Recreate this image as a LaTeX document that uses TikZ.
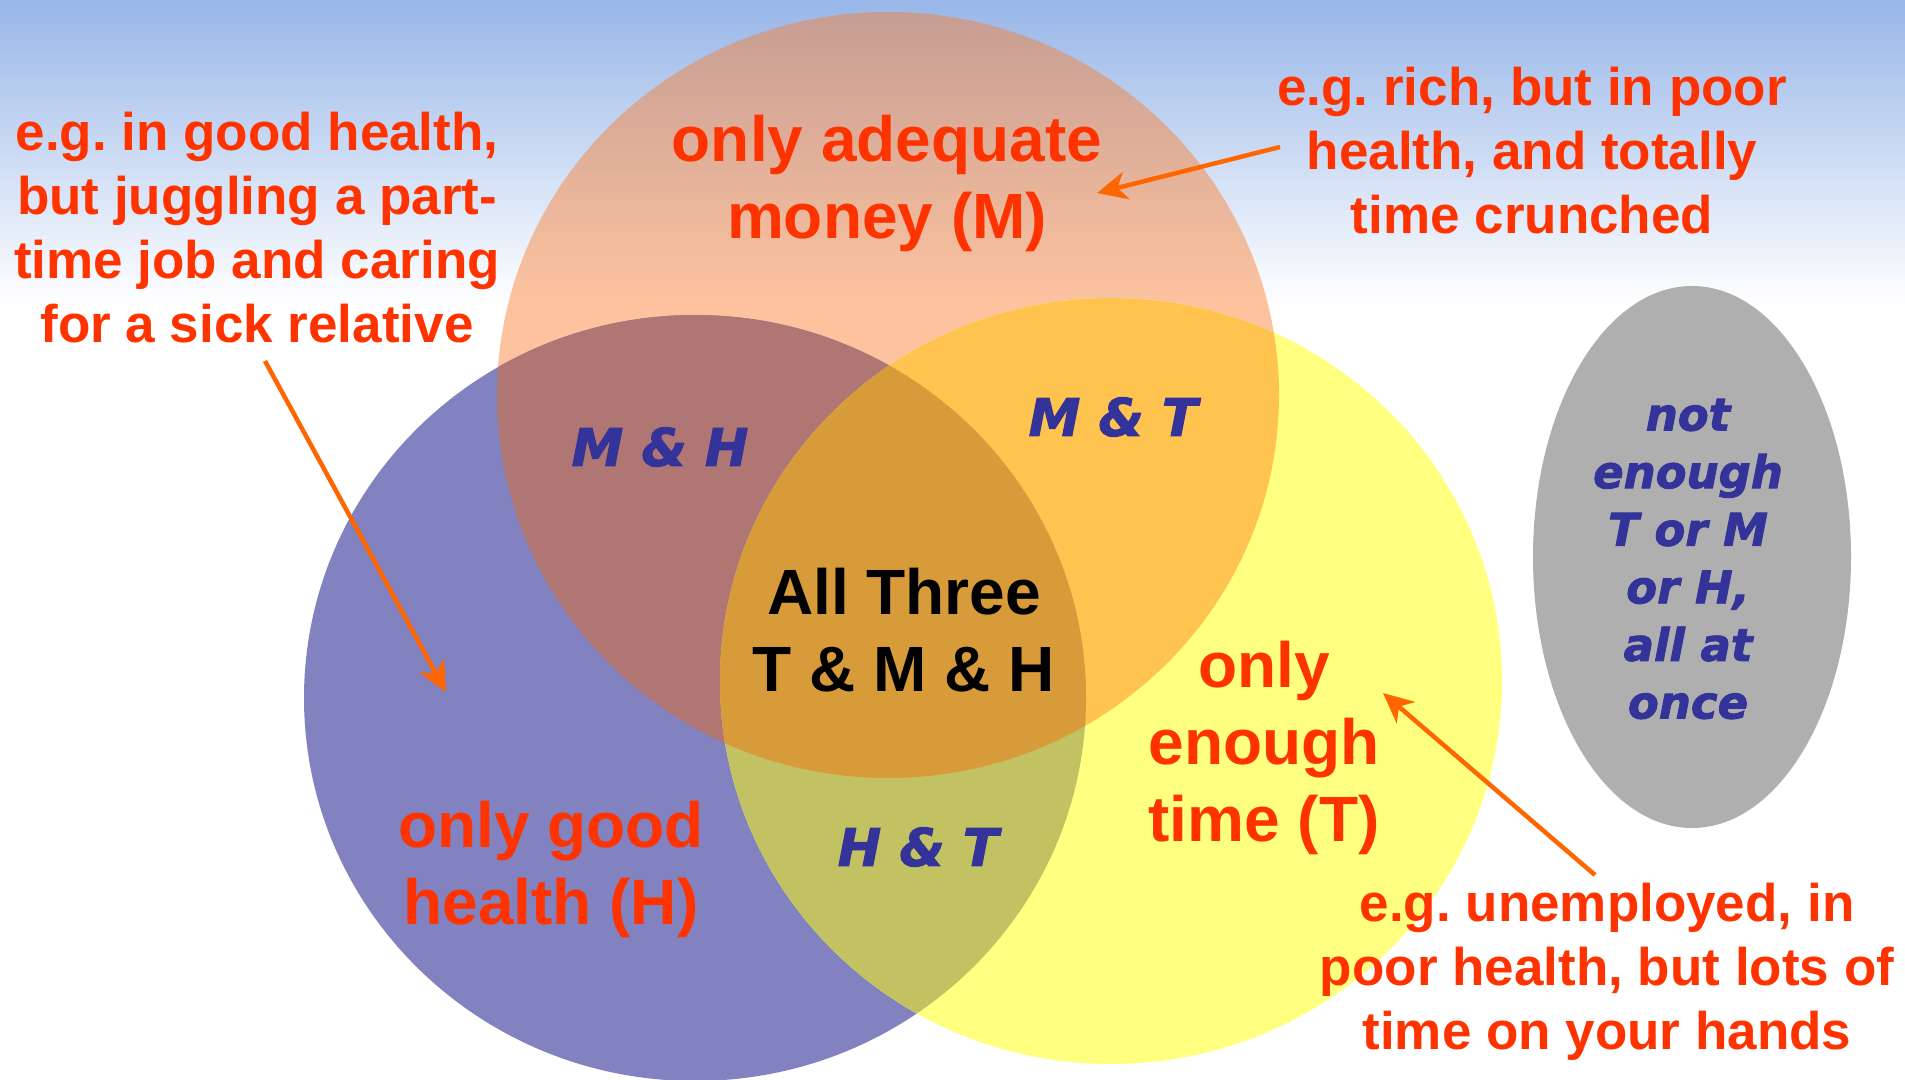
\documentclass[tikz,border=0pt]{standalone}
\usepackage{fontspec}
\setmainfont{Liberation Sans}
\newfontfamily\blkfont{DejaVu Sans}[BoldItalicFeatures={FakeBold=2}]
\usetikzlibrary{arrows.meta}
\frenchspacing
\definecolor{bgtop}{RGB}{152,182,232}
\definecolor{mcol}{RGB}{251,124,44}
\definecolor{hcol}{RGB}{130,130,192}
\definecolor{tcol}{RGB}{255,255,128}
\definecolor{mhcol}{RGB}{176,118,116}
\definecolor{mtcol}{RGB}{255,195,80}
\definecolor{htcol}{RGB}{194,194,98}
\definecolor{allcol}{RGB}{215,155,58}
\definecolor{graycol}{RGB}{175,175,175}
\definecolor{redtxt}{RGB}{255,51,0}
\definecolor{bluetxt}{RGB}{51,51,153}
\definecolor{arrcol}{RGB}{255,102,0}
\newcommand\vennM{(888,395) ellipse [x radius=391pt, y radius=383pt]}
\newcommand\vennH{(695,698) ellipse [x radius=391pt, y radius=383pt]}
\newcommand\vennT{(1111,681) ellipse [x radius=391pt, y radius=383pt]}
\tikzset{
  redbig/.style={text=redtxt, font=\bfseries\fontsize{64}{77}\selectfont, align=center, inner sep=0pt},
  redsmall/.style={text=redtxt, font=\bfseries\fontsize{53}{64}\selectfont, align=center, inner sep=0pt},
  blackbig/.style={text=black, font=\bfseries\fontsize{64}{77}\selectfont, align=center, inner sep=0pt},
  bluelab/.style={text=bluetxt, font=\blkfont\bfseries\itshape\fontsize{52}{62}\selectfont, inner sep=0pt},
  graytext/.style={text=bluetxt, font=\blkfont\bfseries\itshape\fontsize{45}{57.6}\selectfont, align=center, inner sep=0pt},
  arr/.style={draw=arrcol, line width=4.5pt, -{Stealth[length=30pt, width=28pt, inset=9pt]}}
}
\begin{document}
\begin{tikzpicture}[x=1pt,y=-1pt]
\useasboundingbox (0,0) rectangle (1905,1079);
\fill[white] (0,0) rectangle (1905,1079);
\shade[top color=bgtop, bottom color=white] (0,0) rectangle (1905,305);
% circles
\fill[mcol, fill opacity=0.45] \vennM;
\fill[hcol] \vennH;
\fill[tcol] \vennT;
\begin{scope}
  \clip \vennM;
  \fill[mhcol] \vennH;
  \fill[mtcol] \vennT;
\end{scope}
\begin{scope}
  \clip \vennH;
  \fill[htcol] \vennT;
\end{scope}
\begin{scope}
  \clip \vennM;
  \clip \vennH;
  \fill[allcol] \vennT;
\end{scope}
\fill[graycol] (1692,557) ellipse [x radius=159pt, y radius=271pt];
% labels
\node[redbig] (mlab) at (887,183) {only adequate\\money (M)};
\node[redbig] (hlab) at (551,869) {only good\\health (H)};
\node[redbig] (tlab) at (1264,748) {only\\enough\\time (T)};
\node[blackbig] (alllab) at (904,630) {All Three\\T \& M \& H};
\node[bluelab] (mhlab) at (660,447) {M \& H};
\node[bluelab] (mtlab) at (1113,417) {M \& T};
\node[bluelab] (htlab) at (918,847) {H \& T};
\node[graytext] (nonelab) at (1688,559) {not\\enough\\T or M\\or H,\\all at\\once};
\node[redsmall] (ex1) at (257,228) {e.g. in good health,\\but juggling a part-\\time job and caring\\for a sick relative};
\node[redsmall] (ex2) at (1532,151) {e.g. rich, but in poor\\health, and totally\\time crunched};
\node[redsmall] (ex3) at (1607,972) {e.g. unemployed, in\\poor health, but lots of\\time on your hands};
% arrows
\coordinate (a1s) at (1280,147);
\coordinate (a1t) at (1097,193);
\coordinate (a2s) at (265,361);
\coordinate (a2t) at (446,692);
\coordinate (a3s) at (1595,875);
\coordinate (a3t) at (1383,693);
\draw[arr] (a1s) -- (a1t);
\draw[arr] (a2s) -- (a2t);
\draw[arr] (a3s) -- (a3t);
\end{tikzpicture}
\end{document}
